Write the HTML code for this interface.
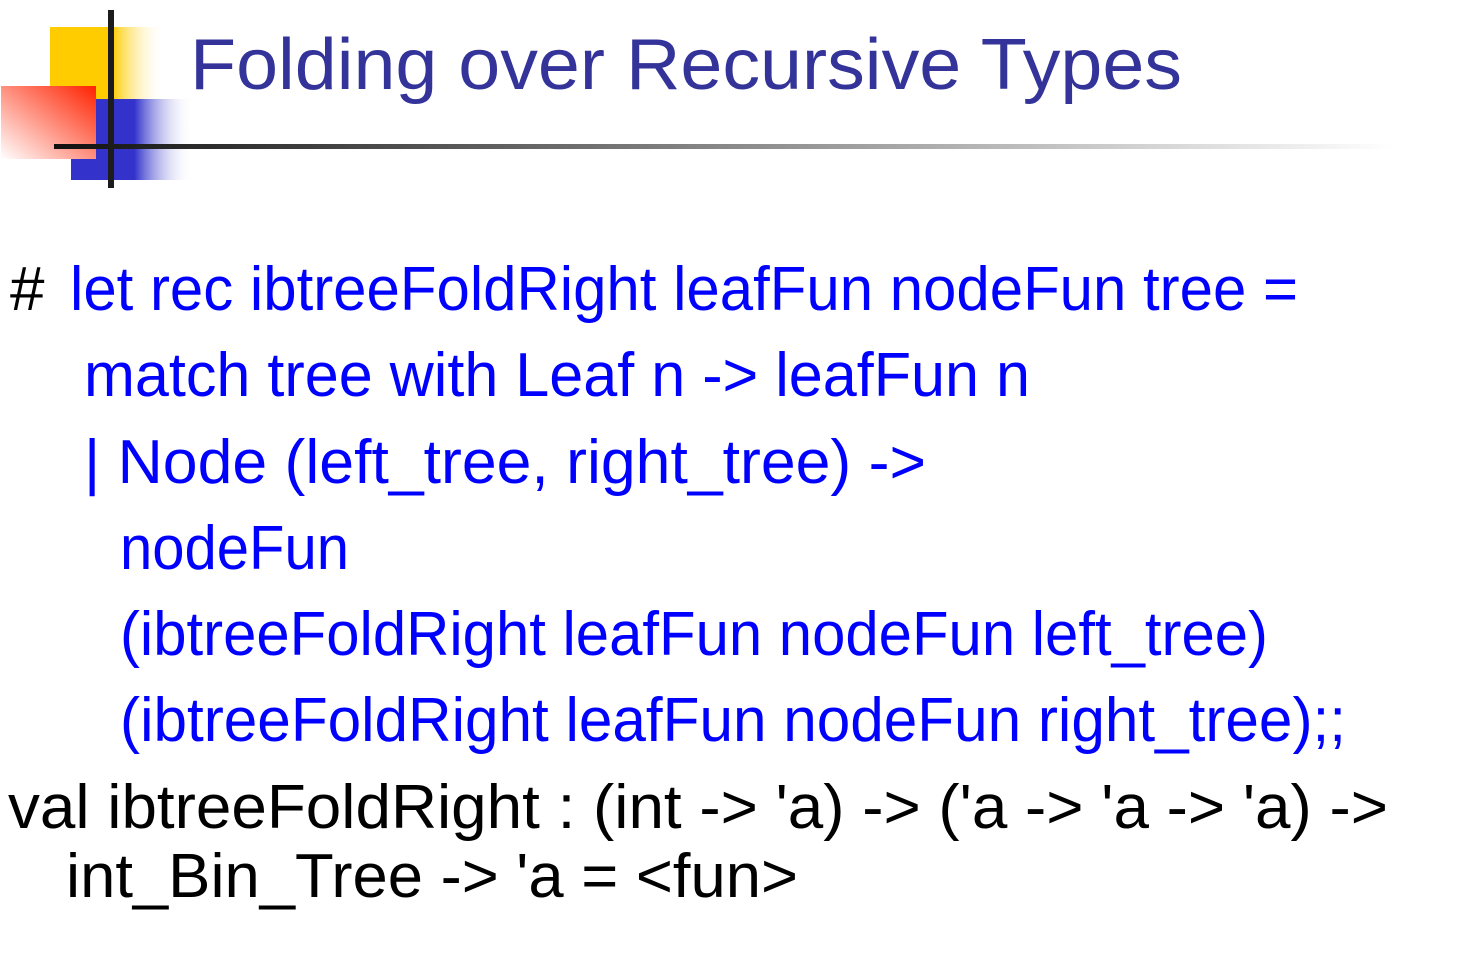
<!DOCTYPE html>
<html><head><meta charset="utf-8"><style>
html,body{margin:0;padding:0;background:#fff;width:1480px;height:977px;overflow:hidden}
</style></head><body>
<svg width="1480" height="977" xmlns="http://www.w3.org/2000/svg" style="position:absolute;left:0;top:0">
<defs>
<linearGradient id="y" x1="0" x2="1" y1="0" y2="0"><stop offset="0" stop-color="#ffcc00"/><stop offset="0.54" stop-color="#ffcc00"/><stop offset="1" stop-color="#fff" stop-opacity="0"/></linearGradient>
<linearGradient id="b" x1="0" x2="1" y1="0" y2="0"><stop offset="0" stop-color="#3333cc"/><stop offset="0.52" stop-color="#3333cc"/><stop offset="1" stop-color="#fff" stop-opacity="0"/></linearGradient>
<linearGradient id="r" x1="1" y1="0" x2="0" y2="1"><stop offset="0" stop-color="#ff2200"/><stop offset="1" stop-color="#fff"/></linearGradient>
<linearGradient id="l" x1="0" x2="1" y1="0" y2="0"><stop offset="0" stop-color="#111"/><stop offset="0.5" stop-color="#888"/><stop offset="1" stop-color="#fff"/></linearGradient>
</defs>
<rect x="50" y="27" width="115" height="72" fill="url(#y)"/>
<rect x="71" y="99" width="122" height="81" fill="url(#b)"/>
<rect x="1" y="86" width="95" height="73" fill="url(#r)"/>
<rect x="54" y="144" width="1340" height="5" fill="url(#l)"/>
<rect x="108" y="10" width="6" height="178" fill="#1c1c1c"/>
<g font-family="Liberation Sans, sans-serif" font-size="62">
<text x="190" y="89" fill="#333399" font-size="72" textLength="992" lengthAdjust="spacingAndGlyphs">Folding over Recursive Types</text>
<text x="10" y="310" fill="#000">#</text>
<text x="70" y="310" fill="#0000ff" textLength="1228" lengthAdjust="spacingAndGlyphs">let rec ibtreeFoldRight leafFun nodeFun tree =</text>
<text x="84" y="396" fill="#0000ff" textLength="946" lengthAdjust="spacingAndGlyphs">match tree with Leaf n -&gt; leafFun n</text>
<text x="84" y="483" fill="#0000ff" textLength="842" lengthAdjust="spacingAndGlyphs">| Node (left_tree, right_tree) -&gt;</text>
<text x="120" y="569" fill="#0000ff" textLength="229" lengthAdjust="spacingAndGlyphs">nodeFun</text>
<text x="120" y="655" fill="#0000ff" textLength="1148" lengthAdjust="spacingAndGlyphs">(ibtreeFoldRight leafFun nodeFun left_tree)</text>
<text x="120" y="741" fill="#0000ff" textLength="1226" lengthAdjust="spacingAndGlyphs">(ibtreeFoldRight leafFun nodeFun right_tree);;</text>
<text x="8" y="828" fill="#000" textLength="1380" lengthAdjust="spacingAndGlyphs">val ibtreeFoldRight : (int -&gt; 'a) -&gt; ('a -&gt; 'a -&gt; 'a) -&gt;</text>
<text x="66" y="897" fill="#000" textLength="732" lengthAdjust="spacingAndGlyphs">int_Bin_Tree -&gt; 'a = &lt;fun&gt;</text>
</g>
</svg>
</body></html>
